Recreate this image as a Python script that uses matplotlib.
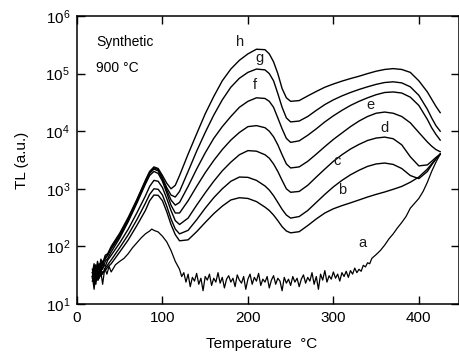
import matplotlib.pyplot as plt
from matplotlib.ticker import FixedLocator, FixedFormatter, NullLocator

plt.rcParams['font.family'] = ['Liberation Sans', 'DejaVu Sans']

# temperature grid shared by curves b-h (deg C)
temp = [18, 20, 22, 24, 26, 28, 30, 33, 36, 40,
        50, 60, 70, 80,
        85, 90, 95, 100, 105, 110, 115, 120,
        130, 140, 150, 160, 170, 180, 190, 200, 210, 220,
        225, 230, 235, 240, 245, 250,
        260, 270, 280, 290, 300, 310, 320, 330, 340, 350, 360, 370, 380, 390, 400, 410,
        415, 420, 425]

tl_h = [35, 50, 30, 55, 40, 60, 50, 70, 75, 100,
        170, 320, 650, 1400,
        2000, 2400, 2250, 1700, 1250, 1000, 1150, 1700,
        4000, 9000, 20000, 40000, 75000, 120000, 170000, 220000, 265000, 260000,
        220000, 160000, 100000, 55000, 38000, 33000,
        34000, 41000, 49000, 58000, 66000, 74000, 82000, 90000, 100000, 110000, 118000, 122000,
        118000, 105000, 75000, 48000,
        36000, 27000, 21000]

tl_g = [30, 45, 28, 50, 38, 55, 48, 65, 70, 95,
        160, 300, 620, 1350,
        1950, 2300, 2150, 1550, 1050, 780, 720, 900,
        2000, 4500, 9500, 19000, 35000, 58000, 83000, 105000, 120000, 116000,
        100000, 75000, 45000, 26000, 17000, 14500,
        15000, 18000, 23000, 29000, 35000, 41000, 47000, 53000, 59000, 65000, 70000, 72000,
        69000, 59000, 42000, 24000,
        17000, 12500, 10000]

tl_f = [40, 32, 48, 35, 50, 42, 55, 60, 72, 90,
        150, 290, 600, 1300,
        1850, 2200, 2050, 1450, 950, 640, 520, 580,
        1100, 2200, 4200, 7500, 12000, 18000, 26000, 33000, 38000, 37000,
        33000, 26000, 17000, 11000, 7500, 6400,
        6800, 8500, 11000, 14500, 18500, 23000, 28000, 33000, 38000, 43000, 47000, 48000,
        46000, 39000, 28000, 16000,
        11500, 8800, 7000]

tl_e = [28, 40, 25, 45, 32, 48, 40, 55, 62, 80,
        140, 270, 560, 1200,
        1700, 2000, 1850, 1350, 850, 520, 380, 380,
        620, 1100, 1900, 3100, 4800, 7000, 9500, 12000, 12500, 11500,
        10000, 8000, 5800, 3900, 2700, 2300,
        2400, 3000, 4000, 5400, 7200, 9300, 12000, 15000, 18000, 20500, 21500, 20500,
        18000, 14000, 9500, 6500,
        5500, 4800, 4400]

tl_d = [35, 25, 42, 30, 45, 35, 50, 45, 58, 70,
        115, 200, 380, 750,
        1100, 1400, 1350, 1050, 680, 420, 280, 240,
        310, 520, 850, 1350, 2050, 2900, 3900, 4600, 4500, 3900,
        3400, 2700, 2000, 1400, 1000, 870,
        900, 1150, 1600, 2200, 3000, 3900, 4900, 5900, 6900, 7600, 7900, 7400,
        5800, 3600, 2500, 2600,
        3000, 3500, 4000]

tl_c = [25, 35, 22, 38, 28, 40, 33, 42, 48, 58,
        95, 160, 290, 560,
        800, 1000, 980, 780, 500, 300, 200, 165,
        190, 290, 460, 700, 1000, 1350, 1600, 1580, 1400, 1120,
        950, 760, 580, 440, 350, 310,
        330, 420, 580, 800, 1080, 1400, 1750, 2100, 2450, 2700, 2800, 2650,
        2250, 1700, 1500, 2000,
        2600, 3300, 4000]

tl_b = [30, 22, 35, 26, 38, 30, 36, 38, 44, 50,
        80, 130, 230, 420,
        620, 780, 770, 620, 400, 240, 160, 125,
        130, 180, 260, 370, 500, 640, 700, 680, 600, 480,
        420, 350, 280, 220, 185, 172,
        180, 230, 300, 380, 450, 510, 570, 640, 720, 800, 880, 980,
        1100, 1300, 1600, 2200,
        2700, 3300, 4000]

# curve a (noisy background)
temp_a = [18, 20, 22.5, 25, 27.5, 30, 32.5, 35, 37.5, 40, 45, 50, 55, 60, 65, 70, 75,
          80, 85, 87.5, 90, 95, 100, 105, 110, 115,
          120, 122.5, 125, 127.5, 130, 132.5, 135, 137.5, 140, 142.5, 145, 147.5,
          150, 152.5, 155, 157.5, 160, 162.5, 165, 167.5, 170, 172.5, 175, 177.5,
          180, 182.5, 185, 187.5, 190, 192.5, 195, 197.5, 200, 202.5, 205, 207.5,
          210, 212.5, 215, 217.5, 220, 222.5, 225, 227.5, 230, 232.5, 235, 237.5,
          240, 242.5, 245, 247.5, 250, 252.5, 255, 257.5, 260, 262.5, 265, 267.5,
          270, 272.5, 275, 277.5, 280, 282.5, 285, 287.5, 290, 292.5, 295, 297.5,
          300, 302.5, 305, 307.5, 310, 312.5, 315, 317.5, 320, 322.5, 325, 327.5,
          330, 332.5, 335, 337.5, 340, 342.5, 345,
          350, 355, 360, 365, 370, 375, 380, 385, 390, 395, 400, 405, 410, 415, 420, 425]
tl_a = [30, 18, 38, 26, 40, 22, 42, 33, 45, 36, 48, 55, 62, 75, 95, 115, 140,
        165, 185, 200, 190, 178, 150, 120, 85, 55,
        40, 30, 35, 24, 33, 20, 29, 25, 34, 22, 28, 17,
        30, 26, 33, 21, 28, 24, 35, 23, 29, 19, 27, 31,
        24, 28, 20, 32, 26, 23, 30, 18, 27, 33, 22, 29,
        25, 34, 21, 27, 24, 30, 19, 26, 31, 22, 28, 25,
        17, 29, 23, 27, 21, 30, 24, 28, 20, 27, 32, 23,
        29, 25, 35, 22, 30, 18, 33, 26, 38, 24, 31, 27,
        36, 28, 33, 25, 35, 30, 37, 29, 38, 33, 42, 35,
        40, 37, 47, 44, 52, 50, 62,
        72, 85, 105, 135, 165, 210, 260, 330, 460, 560, 680, 900, 1300, 2000, 2900, 4000]

curves = {'b': tl_b, 'c': tl_c, 'd': tl_d, 'e': tl_e, 'f': tl_f, 'g': tl_g, 'h': tl_h}

# letter positions (T, TL)
label_pos = {'h': (191, 3.6e5), 'g': (213, 1.9e5), 'f': (208, 6.3e4), 'e': (343, 2.8e4),
             'd': (360, 1.15e4), 'c': (304, 3.0e3), 'b': (310, 950), 'a': (334, 115)}

fig = plt.figure(figsize=(4.59, 3.56), dpi=100)
ax = fig.add_axes([77 / 459, 1 - 304 / 356, 382 / 459, 288 / 356])

ax.plot(temp_a, tl_a, color='black', lw=0.9)
for name, vals in curves.items():
    ax.plot(temp, vals, color='black', lw=1.0)

for name, (x, y) in label_pos.items():
    ax.text(x, y, name, fontsize=10.5, ha='center', va='center', color='#1a1a1a')

ax.set_yscale('log')
ax.set_xlim(0, 447)
ax.set_ylim(10, 1e6)

ax.xaxis.set_major_locator(FixedLocator([0, 100, 200, 300, 400]))
ax.xaxis.set_minor_locator(NullLocator())
decades = [10, 100, 1e3, 1e4, 1e5, 1e6]
ax.yaxis.set_major_locator(FixedLocator(decades))
ax.yaxis.set_major_formatter(FixedFormatter([r'$\mathregular{10^{%d}}$' % i for i in range(1, 7)]))
ax.yaxis.set_minor_locator(NullLocator())

ax.tick_params(direction='in', length=6, width=1, top=True, right=True, labelsize=11, pad=5)
for sp in ax.spines.values():
    sp.set_linewidth(1.1)

ax.set_xlabel('Temperature  °C', fontsize=11)
ax.set_ylabel('TL (a.u.)', fontsize=11)
ax.xaxis.set_label_coords(0.484, -0.115)
ax.yaxis.set_label_coords(-0.125, 0.5)

ax.text(0.05, 0.91, 'Synthetic', transform=ax.transAxes, fontsize=10, va='center')
ax.text(0.05, 0.82, '900 °C', transform=ax.transAxes, fontsize=10, va='center')

fig.savefig('out.png', dpi=100)
